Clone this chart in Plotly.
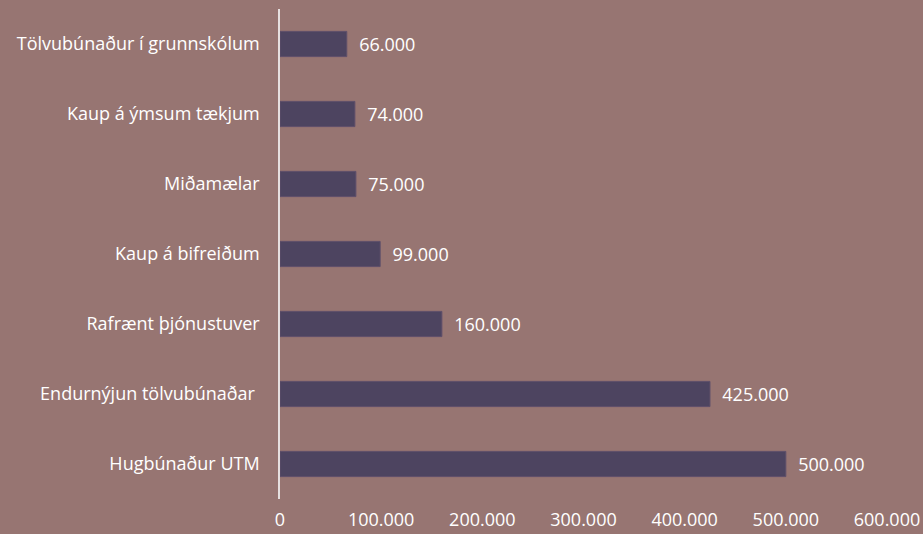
import plotly.graph_objects as go

categories = ["Hugbúnaður UTM", "Endurnýjun tölvubúnaðar ", "Rafrænt þjónustuver",
              "Kaup á bifreiðum", "Miðamælar", "Kaup á ýmsum tækjum",
              "Tölvubúnaður í grunnskólum"]
values = [500000, 425000, 160000, 99000, 75000, 74000, 66000]
tick_vals = [0, 100000, 200000, 300000, 400000, 500000, 600000]

BG = "#977572"
BAR = "#4D4460"
FONT = "Open Sans, Liberation Sans, sans-serif"

fig = go.Figure(go.Bar(
    x=values, y=categories, orientation="h",
    marker=dict(color=BAR, line=dict(color="#5E4F6A", width=1)),
    width=0.36,
    texttemplate="\u00a0\u00a0%{x:,d}",
    textposition="outside",
    textfont=dict(color="white", size=18, family=FONT),
    cliponaxis=False,
))

fig.update_layout(
    width=923, height=534,
    paper_bgcolor=BG, plot_bgcolor=BG,
    margin=dict(l=280, r=36, t=9, b=35),
    separators=",.",
    showlegend=False,
    font=dict(family=FONT, color="white", size=18),
)
fig.update_xaxes(range=[0, 600000], tickvals=tick_vals, tickformat=",d",
                 showgrid=False, zeroline=False, showline=False, automargin=False,
                 ticks="outside", ticklen=4, tickcolor="rgba(0,0,0,0)",
                 tickfont=dict(size=18, color="white", family=FONT))
fig.update_yaxes(showgrid=False, zeroline=False, showline=True, automargin=False,
                 linecolor="#E6E0E0", linewidth=1.5,
                 ticks="outside", ticklen=15, tickcolor="rgba(0,0,0,0)",
                 tickfont=dict(size=18, color="white", family=FONT))

fig.write_html("out.html", config={"displayModeBar": False},
               post_script="document.body.style.margin='0';document.body.style.background='%s';" % BG)
